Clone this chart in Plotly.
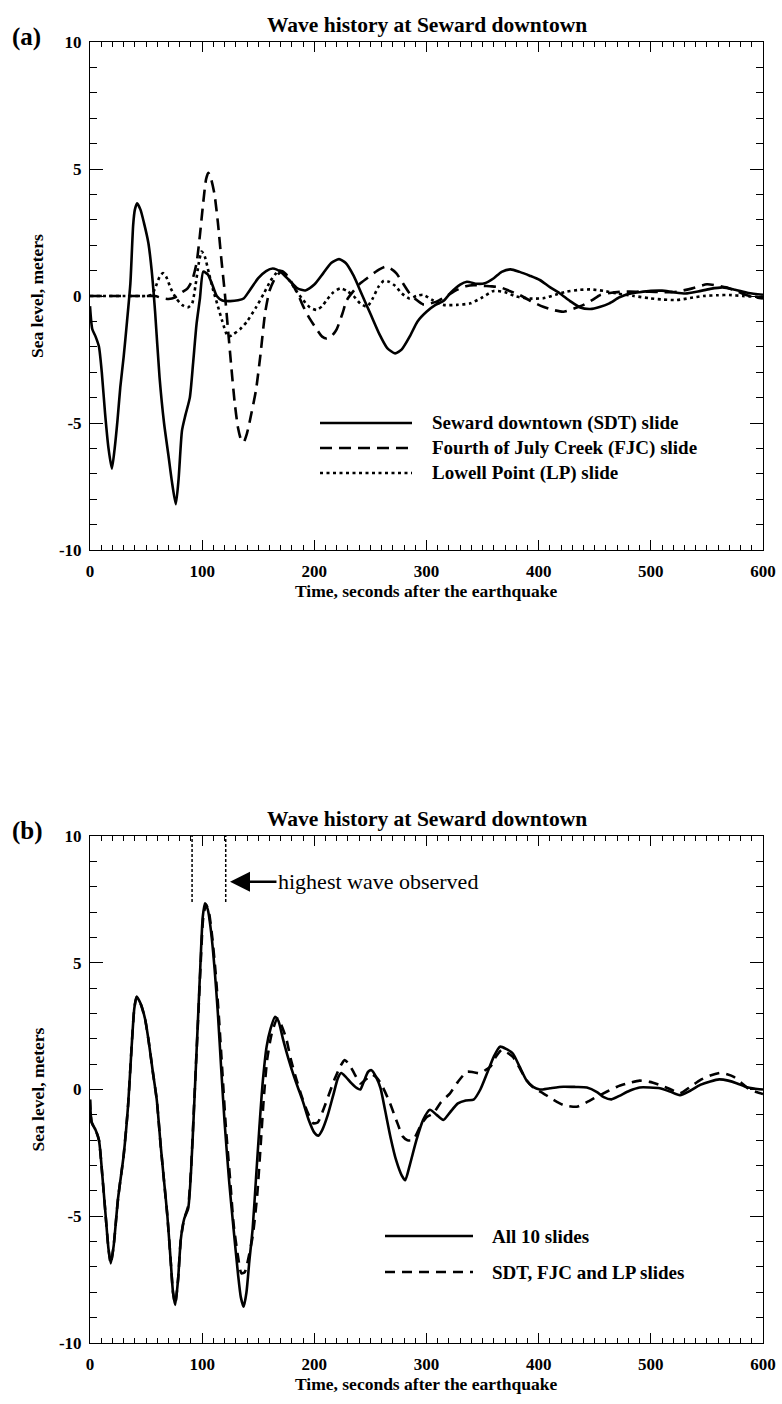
import plotly.graph_objects as go

# ---------------- data ----------------
# Panel (a): individual slides
t_sdt = [0, 2, 5, 8, 10.5, 13.4, 16.5, 19.5, 22, 24.5, 27, 30, 33, 36, 38.5, 40, 42, 45, 48, 52, 55, 58, 62, 66,
         70, 73, 76.5, 79, 82, 85, 89, 92, 95, 98, 101, 105, 109, 113, 118, 125, 132, 137, 142, 150, 157, 163,
         170, 178, 185, 192, 200, 208, 215, 222, 228, 235, 242, 250, 258, 265, 272, 278, 285, 292, 300, 308,
         315, 322, 330, 336, 345, 352, 360, 367, 375, 383, 392, 401, 410, 419, 428, 437, 446, 455, 463, 472,
         480, 490, 500, 510, 520, 531, 542, 553, 564, 575, 587, 600]
y_sdt = [-0.4, -1.3, -1.6, -2.0, -3.0, -4.6, -6.0, -6.8, -6.0, -4.9, -3.6, -2.4, -1.0, 0.5, 2.8, 3.4, 3.65, 3.4,
         2.9, 2.1, 1.0, -0.6, -3.2, -5.0, -6.3, -7.3, -8.2, -7.2, -5.3, -4.7, -4.0, -2.6, -1.1, -0.1, 0.96, 0.85,
         0.45, 0.0, -0.18, -0.2, -0.17, -0.1, 0.2, 0.7, 0.98, 1.08, 0.95, 0.6, 0.3, 0.22, 0.45, 0.9, 1.3, 1.45,
         1.3, 0.8, 0.1, -0.7, -1.5, -2.05, -2.26, -2.1, -1.6, -1.0, -0.62, -0.35, -0.2, 0.15, 0.45, 0.56, 0.48,
         0.5, 0.7, 0.95, 1.05, 0.95, 0.8, 0.63, 0.35, 0.1, -0.2, -0.45, -0.51, -0.42, -0.29, -0.05, 0.08, 0.15,
         0.2, 0.21, 0.15, 0.1, 0.18, 0.28, 0.34, 0.25, 0.12, 0.05]

t_fjc = [0, 10, 20, 30, 40, 50, 58, 64, 70, 76, 82, 87, 91, 95, 98, 101, 103.5, 105.5, 108, 111, 114, 117, 120,
         123, 126, 129, 132, 135, 137, 140, 144, 148, 152, 156, 160, 165, 171, 176, 181, 186, 190, 196, 202,
         207, 211, 216, 220, 225, 229, 235, 241, 247, 253, 258, 263, 268, 273, 279, 285, 291, 297, 303, 309,
         318, 327, 335, 342, 350, 358, 366, 374, 383, 393, 404, 413, 422, 431, 440, 448, 455, 465, 475, 487,
         499, 511, 523, 537, 550, 558, 567, 576, 585, 593, 600]
y_fjc = [0, 0, 0, 0, 0, 0, 0, -0.08, -0.12, -0.05, 0.15, 0.3, 0.6, 1.3, 2.4, 3.7, 4.6, 4.85, 4.6, 4.0, 2.9, 1.5,
         0.2, -1.3, -2.8, -4.2, -5.2, -5.7, -5.75, -5.4, -4.6, -3.7, -2.3, -0.7, 0.2, 0.7, 0.98, 0.8, 0.43, 0.0,
         -0.4, -0.9, -1.3, -1.6, -1.67, -1.55, -1.3, -0.7, -0.16, 0.2, 0.5, 0.7, 0.9, 1.05, 1.15, 1.08, 0.9, 0.5,
         0.1, -0.15, -0.33, -0.3, -0.22, 0.0, 0.24, 0.38, 0.43, 0.4, 0.38, 0.34, 0.2, 0.04, -0.2, -0.42, -0.55,
         -0.62, -0.5, -0.35, -0.15, 0.04, 0.13, 0.17, 0.17, 0.17, 0.15, 0.17, 0.3, 0.46, 0.42, 0.34, 0.2, 0.04,
         -0.05, -0.1]

t_lp = [0, 10, 20, 30, 40, 50, 55, 58, 62, 65, 68, 72, 77, 82, 87, 91, 94, 97, 99.5, 102, 106, 110, 114, 118,
        123, 128, 134, 140, 148, 155, 161, 166, 169, 173, 178, 184, 190, 196, 202, 207, 211, 217, 223, 229,
        235, 241, 247, 252, 257, 262, 267, 272, 278, 285, 291, 297, 305, 315, 327, 339, 350, 360, 370, 380,
        392, 404, 415, 425, 436, 446, 458, 470, 485, 499, 511, 523, 535, 547, 560, 570, 582, 594, 600]
y_lp = [0, 0, 0, 0, 0, 0, 0.05, 0.3, 0.75, 0.9, 0.75, 0.3, -0.1, -0.35, -0.45, -0.3, 0.4, 1.3, 1.75, 1.6, 0.9,
        0.2, -0.4, -1.0, -1.6, -1.5, -1.3, -1.0, -0.45, 0.1, 0.6, 0.9, 1.0, 0.9, 0.6, 0.2, -0.16, -0.45, -0.55,
        -0.4, -0.16, 0.15, 0.3, 0.2, 0.0, -0.3, -0.42, -0.1, 0.35, 0.6, 0.55, 0.4, 0.1, -0.1, 0.0, 0.05, -0.15,
        -0.35, -0.35, -0.29, -0.05, 0.2, 0.15, -0.02, -0.1, -0.09, 0.05, 0.17, 0.24, 0.26, 0.2, 0.1, 0.0, -0.09,
        -0.14, -0.16, -0.08, 0.0, 0.03, 0.04, 0.0, -0.03, -0.05]

# Panel (b): combined slides
t_all = [0, 1.5, 5, 8, 11, 14, 16.5, 18.5, 21, 25, 30, 34, 37, 39.5, 41.6, 45, 49, 52, 56, 59.5, 63, 66, 69, 72,
         74, 76, 78.5, 81, 84, 87.5, 90, 93, 96, 98.5, 100.5, 102.5, 105, 108, 111, 114, 117, 120, 124, 128,
         132, 134.5, 137, 139.5, 142, 145, 148, 151, 154, 157.5, 161, 165, 168, 172, 177, 182, 186, 190, 195,
         200, 203.6, 207, 212, 217, 221, 224, 228, 233, 238, 241, 244, 248, 251, 255, 259, 263, 268, 273, 278,
         281, 285, 291, 297, 303, 309, 315, 321, 328, 335, 342, 348, 354, 360, 365.5, 371, 377, 383, 389, 395,
         401, 410, 422, 433, 443, 452, 458, 465, 472, 481, 490, 499, 508, 517, 526, 535, 544, 553, 561, 569,
         577, 585, 592, 600]
y_all = [-0.4, -1.3, -1.6, -2.0, -3.4, -5.0, -6.3, -6.86, -6.2, -4.3, -2.6, -0.6, 1.6, 3.2, 3.66, 3.4, 2.8, 2.0,
         0.7, -0.4, -2.2, -3.6, -5.0, -6.8, -8.0, -8.5, -7.5, -5.9, -5.1, -4.7, -3.3, -0.5, 2.5, 5.0, 6.8, 7.35,
         7.1, 6.2, 4.8, 3.0, 0.8, -1.3, -3.6, -5.5, -7.3, -8.2, -8.57, -8.0, -6.8, -5.5, -3.5, -1.5, 0.3, 1.7,
         2.4, 2.87, 2.7, 2.0, 1.2, 0.5, 0.0, -0.5, -1.2, -1.7, -1.82, -1.6, -1.0, -0.2, 0.45, 0.65, 0.5, 0.25,
         0.05, 0.0, 0.3, 0.7, 0.76, 0.5, 0.05, -0.8, -1.9, -2.8, -3.4, -3.58, -3.0, -2.0, -1.2, -0.8, -1.0, -1.2,
         -0.9, -0.55, -0.43, -0.4, 0.0, 0.64, 1.3, 1.69, 1.6, 1.42, 0.9, 0.37, 0.1, 0.0, 0.05, 0.11, 0.1, 0.08,
         -0.1, -0.3, -0.39, -0.25, -0.05, 0.08, 0.08, 0.05, -0.08, -0.22, -0.05, 0.18, 0.32, 0.4, 0.35, 0.24, 0.1,
         0.04, 0.0]

t_three = [0, 1.5, 5, 8, 11, 14, 16.5, 18.5, 21, 25, 30, 34, 37, 39.5, 41.6, 45, 49, 52, 56, 59.5, 63, 66, 69,
           72, 74, 76, 78.5, 81, 84, 87.5, 90, 93, 96, 98.5, 101, 103.5, 106, 109, 112, 115, 118, 121, 125, 128,
           132, 135, 138, 140, 145, 149, 152, 155, 158, 162, 167, 170, 175, 179, 184, 189, 194, 199, 203, 208,
           213, 218, 223, 227, 231, 236, 241, 246, 251, 256, 261, 267.5, 273, 279, 283, 288, 295, 300, 306, 313,
           321, 328, 336, 342, 348, 352, 357, 362, 367, 372, 377, 383, 389, 396, 404, 413, 422, 434, 443, 452,
           461, 470, 480, 490, 499, 508, 517, 526, 535, 544, 553, 562, 568, 574, 581, 588, 594, 600]
y_three = [-0.4, -1.3, -1.6, -2.0, -3.4, -5.0, -6.3, -6.86, -6.2, -4.3, -2.6, -0.6, 1.6, 3.2, 3.66, 3.4, 2.8,
           2.0, 0.7, -0.4, -2.2, -3.6, -5.0, -6.8, -8.0, -8.45, -7.5, -5.9, -5.1, -4.6, -3.2, -0.4, 2.4, 4.8, 6.8,
           7.3, 7.0, 6.0, 4.6, 2.8, 0.7, -1.4, -3.6, -5.3, -6.6, -7.25, -7.2, -6.9, -5.8, -4.2, -2.3, -0.3, 1.2,
           2.2, 2.8, 2.6, 2.0, 1.2, 0.4, -0.3, -0.9, -1.33, -1.3, -0.8, -0.2, 0.4, 0.9, 1.16, 1.0, 0.6, 0.24, 0.4,
           0.6, 0.45, 0.1, -0.55, -1.2, -1.86, -2.0, -1.99, -1.4, -1.1, -0.94, -0.5, -0.15, 0.3, 0.7, 0.68, 0.64,
           0.75, 0.9, 1.3, 1.56, 1.45, 1.29, 0.85, 0.37, 0.05, -0.15, -0.4, -0.61, -0.68, -0.5, -0.28, -0.08, 0.11,
           0.25, 0.35, 0.3, 0.18, 0.02, -0.15, 0.1, 0.37, 0.55, 0.66, 0.6, 0.5, 0.25, 0.0, -0.1, -0.18]

# observed highest-wave window (time, seconds) and its lower marker level
obs_window_t = [91, 121]
obs_window_y = [7.4, 10]
arrow_t, arrow_y = 124.8, 8.2

x_tickvals = [0, 100, 200, 300, 400, 500, 600]
x_ticktext = ["0", "100", "200", "300", "400", "500", "600"]
y_tickvals = [-10, -5, 0, 5, 10]
y_ticktext = ["-10", "-5", "0", "5", "10"]

title_text = "Wave history at Seward downtown"
xtitle_text = "Time, seconds after the earthquake"
ytitle_text = "Sea level, meters"
legend_a = ["Seward downtown (SDT) slide", "Fourth of July Creek (FJC) slide", "Lowell Point (LP) slide"]
legend_b = ["All 10 slides", "SDT, FJC and LP slides"]

# ---------------- layout helpers ----------------
W, H = 782, 1404
FONT = "Liberation Serif"


def px(x):
    return x / W


def py(y):
    return 1 - y / H


L, R = 90, 763
A_TOP, A_BOT = 42, 550
B_TOP, B_BOT = 836, 1343

fig = go.Figure()

LW = 2.6
DASH_A = "12px,7px"
DOT = "3px,3.5px"
DASH_B = "10px,7px"

fig.add_trace(go.Scatter(x=t_sdt, y=y_sdt, mode="lines", xaxis="x", yaxis="y",
                         line=dict(color="black", width=LW, shape="spline", smoothing=0.6),
                         name=legend_a[0], showlegend=False))
fig.add_trace(go.Scatter(x=t_fjc, y=y_fjc, mode="lines", xaxis="x", yaxis="y",
                         line=dict(color="black", width=LW, dash=DASH_A, shape="spline", smoothing=0.6),
                         name=legend_a[1], showlegend=False))
fig.add_trace(go.Scatter(x=t_lp, y=y_lp, mode="lines", xaxis="x", yaxis="y",
                         line=dict(color="black", width=LW, dash=DOT, shape="spline", smoothing=0.6),
                         name=legend_a[2], showlegend=False))

fig.add_trace(go.Scatter(x=t_three, y=y_three, mode="lines", xaxis="x2", yaxis="y2",
                         line=dict(color="black", width=LW, dash=DASH_B, shape="spline", smoothing=0.6),
                         name=legend_b[1], showlegend=False))
fig.add_trace(go.Scatter(x=t_all, y=y_all, mode="lines", xaxis="x2", yaxis="y2",
                         line=dict(color="black", width=LW, shape="spline", smoothing=0.6),
                         name=legend_b[0], showlegend=False))

for tt in obs_window_t:
    fig.add_trace(go.Scatter(x=[tt, tt], y=obs_window_y, mode="lines", xaxis="x2", yaxis="y2",
                             line=dict(color="black", width=1.5, dash="3px,2px"),
                             showlegend=False, hoverinfo="skip"))

tickfont = dict(family=FONT, size=17, color="black", weight="bold")


def xaxis_cfg(domain_y_anchor):
    return dict(domain=[px(L), px(R)], range=[0, 600], anchor=domain_y_anchor, automargin=False,
                showline=True, linecolor="black", linewidth=1, mirror="ticks",
                ticks="inside", ticklen=10, tickwidth=1, tickcolor="black",
                tickvals=x_tickvals, ticktext=x_ticktext, tickfont=tickfont,
                ticklabelstandoff=6,
                minor=dict(ticks="inside", ticklen=5, dtick=10, tick0=0, tickcolor="black", tickwidth=1),
                showgrid=False, zeroline=False)


def yaxis_cfg(dom, xanchor):
    return dict(domain=dom, range=[-10, 10], anchor=xanchor, automargin=False,
                showline=True, linecolor="black", linewidth=1, mirror="ticks",
                ticks="inside", ticklen=13, tickwidth=1, tickcolor="black",
                tickvals=y_tickvals, ticktext=y_ticktext, tickfont=tickfont,
                ticklabelstandoff=4,
                minor=dict(ticks="inside", ticklen=7, dtick=1, tick0=0, tickcolor="black", tickwidth=1),
                showgrid=False, zeroline=False)


fig.update_layout(
    width=W, height=H,
    margin=dict(l=0, r=0, t=0, b=0, autoexpand=False),
    paper_bgcolor="white", plot_bgcolor="white",
    showlegend=False,
    font=dict(family=FONT, color="black"),
    xaxis=xaxis_cfg("y"),
    yaxis=yaxis_cfg([py(A_BOT), py(A_TOP)], "x"),
    xaxis2=xaxis_cfg("y2"),
    yaxis2=yaxis_cfg([py(B_BOT), py(B_TOP)], "x2"),
)

ann = []
bold = lambda s: dict(family=FONT, size=s, color="black", weight="bold")
for top, bot, lab in [(A_TOP, A_BOT, "(a)"), (B_TOP, B_BOT, "(b)")]:
    ann.append(dict(text=title_text, x=px((L + R) / 2), y=py(top - 17), xref="paper", yref="paper",
                    showarrow=False, xanchor="center", yanchor="middle", font=bold(21.5)))
    ann.append(dict(text=lab, x=px(10), y=py(top - 5), xref="paper", yref="paper",
                    showarrow=False, xanchor="left", yanchor="middle", font=bold(25)))
    ann.append(dict(text=xtitle_text, x=px((L + R) / 2), y=py(bot + 41), xref="paper", yref="paper",
                    showarrow=False, xanchor="center", yanchor="middle", font=bold(17.5)))
    ann.append(dict(text=ytitle_text, x=px(37), y=py((top + bot) / 2), xref="paper", yref="paper",
                    showarrow=False, xanchor="center", yanchor="middle", textangle=-90, font=bold(17.5)))

shapes = []
legend_a_rows = [423, 448, 473]
legend_a_dash = ["solid", DASH_A, DOT]
for lbl, yy, dsh in zip(legend_a, legend_a_rows, legend_a_dash):
    shapes.append(dict(type="line", xref="paper", yref="paper", x0=px(320), x1=px(412), y0=py(yy), y1=py(yy),
                       line=dict(color="black", width=LW, dash=dsh)))
    ann.append(dict(text=lbl, x=px(430), y=py(yy), xref="paper", yref="paper", showarrow=False,
                    xanchor="left", yanchor="middle", font=bold(19)))

legend_b_rows = [1236, 1272]
legend_b_dash = ["solid", DASH_B]
for lbl, yy, dsh in zip(legend_b, legend_b_rows, legend_b_dash):
    shapes.append(dict(type="line", xref="paper", yref="paper", x0=px(385), x1=px(473), y0=py(yy), y1=py(yy),
                       line=dict(color="black", width=LW, dash=dsh)))
    ann.append(dict(text=lbl, x=px(490), y=py(yy), xref="paper", yref="paper", showarrow=False,
                    xanchor="left", yanchor="middle", font=bold(19)))

ann.append(dict(text="highest wave observed", x=arrow_t, y=arrow_y, xref="x2", yref="y2",
                showarrow=True, arrowhead=2, arrowsize=1.6, arrowwidth=2.5, arrowcolor="black",
                ax=148, ay=0, standoff=0, xanchor="center", yanchor="middle",
                font=dict(family=FONT, size=22, color="black")))

fig.update_layout(annotations=ann, shapes=shapes)

fig.write_html("out.html", config={"displayModeBar": False},
               post_script="document.body.style.margin='0';document.body.style.padding='0';"
                           "document.body.style.overflow='hidden';")
